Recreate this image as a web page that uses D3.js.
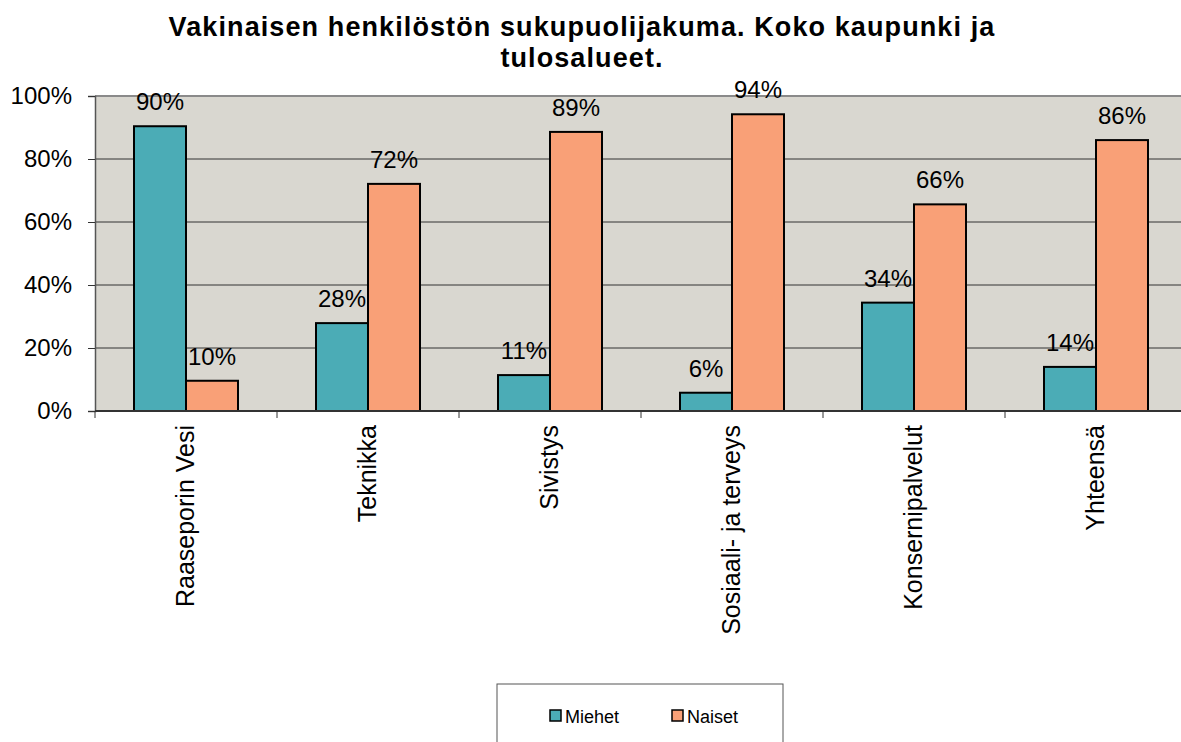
<!DOCTYPE html>
<html lang="fi">
<head>
<meta charset="UTF-8">
<title>Vakinaisen henkilöstön sukupuolijakuma</title>
<style>
  body { margin: 0; background: #fff; font-family: "Liberation Sans", Arial, sans-serif; }
  svg text { fill: #000; }
</style>
</head>
<body>
<svg id="chart" width="1181" height="742"></svg>
<script src="https://d3js.org/d3.v7.min.js"></script>
<script>
// data
const categories = ["Raaseporin Vesi", "Teknikka", "Sivistys", "Sosiaali- ja terveys", "Konsernipalvelut", "Yhteensä"];
const seriesNames = ["Miehet", "Naiset"];
const miehet = [90.4, 27.9, 11.4, 5.8, 34.4, 14.0];
const naiset = [9.6, 72.1, 88.6, 94.2, 65.6, 86.0];
const yTicks = [0, 20, 40, 60, 80, 100];
const colors = { Miehet: "#4bacb6", Naiset: "#f9a077" };

const svg = d3.select("#chart");
const plot = { left: 95, top: 96, bottom: 411, step: 182 };
plot.right = plot.left + plot.step * categories.length;

// title
const titleLines = ["Vakinaisen henkilöstön sukupuolijakuma. Koko kaupunki ja", "tulosalueet."];
svg.append("g").selectAll("text")
    .data(titleLines)
    .join("text")
    .attr("x", 582).attr("y", (d, i) => 36 + i * 31)
    .attr("text-anchor", "middle")
    .style("font-size", "27px").style("font-weight", "bold")
    .style("letter-spacing", "1.1px")
    .text(d => d);

const x0 = d3.scaleBand().domain(categories).range([plot.left, plot.right]);
const x1 = d3.scaleBand().domain(seriesNames).range([0, x0.bandwidth()]).paddingOuter(0.75);
const y = d3.scaleLinear().domain([0, 100]).range([plot.bottom, plot.top]);

// plot background
svg.append("rect")
    .attr("x", plot.left).attr("y", plot.top)
    .attr("width", plot.right - plot.left).attr("height", plot.bottom - plot.top)
    .attr("fill", "#d9d7d0");

// gridlines
svg.append("g").selectAll("line")
    .data(yTicks.filter(t => t > 0))
    .join("line")
    .attr("x1", plot.left).attr("x2", plot.right)
    .attr("y1", d => y(d)).attr("y2", d => y(d))
    .attr("stroke", t => t === 100 ? "#8a8a8a" : "#333")
    .attr("stroke-width", t => t === 100 ? 2 : 1);

// y axis
const yAxis = svg.append("g")
    .attr("transform", `translate(${plot.left},0)`)
    .call(d3.axisLeft(y).tickValues(yTicks).tickFormat(d => d + "%").tickSize(7).tickPadding(16));
yAxis.select(".domain").attr("stroke", "#555").attr("stroke-width", 1.5);
yAxis.selectAll(".tick line").attr("stroke", "#333");
yAxis.selectAll("text").style("font-size", "24px").attr("fill", "#000");

// bars
const rows = categories.map((c, i) => ({ cat: c, values: [
  { name: "Miehet", v: miehet[i] },
  { name: "Naiset", v: naiset[i] }
]}));

const groups = svg.append("g").selectAll("g")
    .data(rows)
    .join("g")
    .attr("transform", d => `translate(${x0(d.cat)},0)`);

groups.selectAll("rect")
    .data(d => d.values)
    .join("rect")
    .attr("x", d => x1(d.name))
    .attr("y", d => y(d.v))
    .attr("width", x1.bandwidth())
    .attr("height", d => y(0) - y(d.v))
    .attr("fill", d => colors[d.name])
    .attr("stroke", "#000")
    .attr("stroke-width", 2);

groups.selectAll("text.val")
    .data(d => d.values)
    .join("text")
    .attr("class", "val")
    .attr("x", d => x1(d.name) + x1.bandwidth() / 2)
    .attr("y", d => y(d.v) - 16)
    .attr("text-anchor", "middle")
    .style("font-size", "24px")
    .text(d => Math.round(d.v) + "%");

// x axis
const xAxis = svg.append("g")
    .attr("transform", `translate(0,${plot.bottom})`);
xAxis.append("line")
    .attr("x1", plot.left).attr("x2", plot.right)
    .attr("stroke", "#333").attr("stroke-width", 2);
xAxis.selectAll("line.tick")
    .data(d3.range(categories.length + 1))
    .join("line")
    .attr("class", "tick")
    .attr("x1", i => plot.left + i * x0.step()).attr("x2", i => plot.left + i * x0.step())
    .attr("y1", 0).attr("y2", 7)
    .attr("stroke", "#333");
xAxis.selectAll("text")
    .data(categories)
    .join("text")
    .attr("transform", d => `translate(${x0(d) + x0.bandwidth() / 2},14) rotate(-90)`)
    .attr("dy", "0.3em")
    .attr("text-anchor", "end")
    .style("font-size", "25px")
    .text(d => d);

// legend
const legend = svg.append("g").attr("transform", "translate(497,684)");
legend.append("rect")
    .attr("width", 286).attr("height", 70)
    .attr("fill", "#fff").attr("stroke", "#555").attr("stroke-width", 1);
const items = legend.selectAll("g")
    .data(seriesNames)
    .join("g")
    .attr("transform", (d, i) => `translate(${53 + i * 122},26)`);
items.append("rect")
    .attr("width", 11).attr("height", 11)
    .attr("fill", d => colors[d])
    .attr("stroke", "#000").attr("stroke-width", 1.5);
items.append("text")
    .attr("x", 15).attr("y", 13)
    .style("font-size", "18px")
    .text(d => d);
</script>
</body>
</html>
